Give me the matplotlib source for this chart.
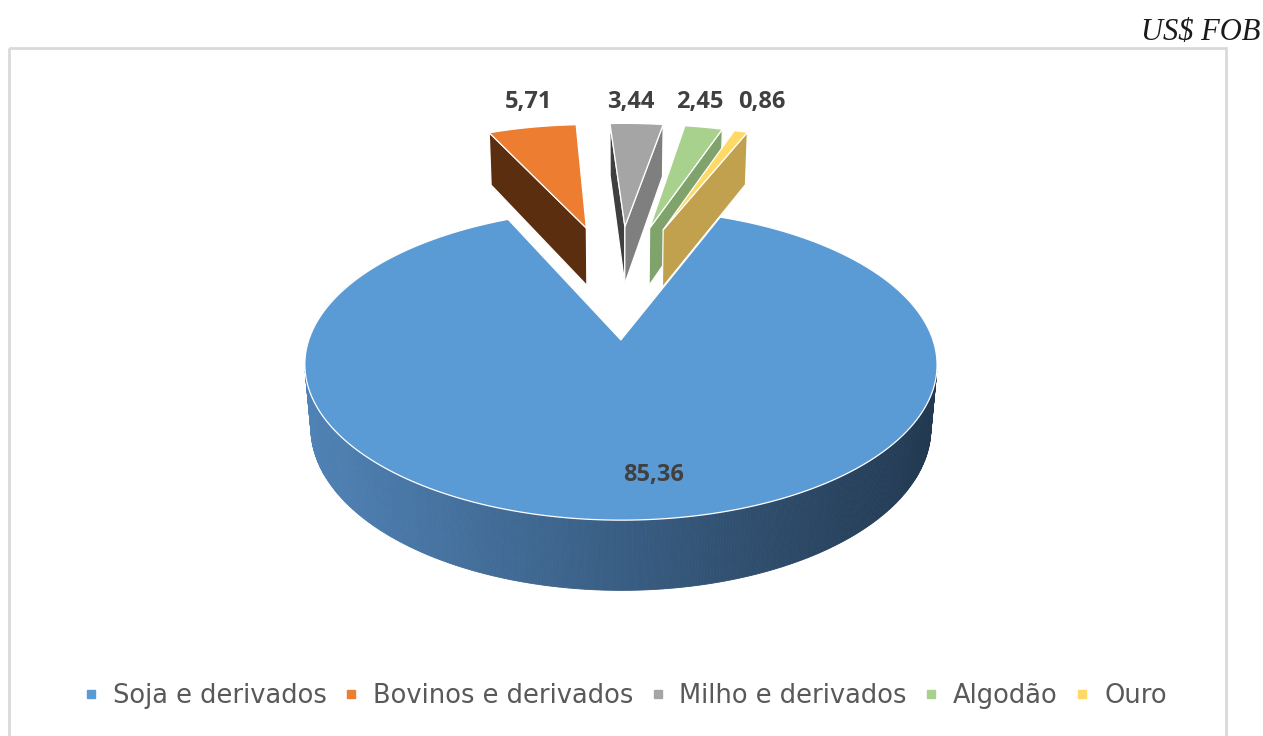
import numpy as np
import matplotlib
matplotlib.use("Agg")
import matplotlib.pyplot as plt
from matplotlib.patches import Polygon, Rectangle
from matplotlib.lines import Line2D
import matplotlib.colors as mcolors

# ---------------- data ----------------
categories = ["Soja e derivados", "Bovinos e derivados", "Milho e derivados", "Algodão", "Ouro"]
values = [85.36, 5.71, 3.44, 2.45, 0.86]
value_labels = ["85,36", "5,71", "3,44", "2,45", "0,86"]
unit_label = "US$ FOB"

# ---------------- style ----------------
top_colors = ["#5B9BD5", "#ED7D31", "#A5A5A5", "#A9D18E", "#FFD966"]
start_side_colors = ["#4A7DAF", "#5C2E10", "#3F3F3F", "#5E7F4E", "#9C7F36"]
end_side_colors = ["#2E4B6B", "#9A5120", "#7F7F7F", "#7FA36A", "#C1A04E"]
wall_light, wall_dark = "#4F82B5", "#223850"
explode = [0.37, 0.48, 0.48, 0.48, 0.48]
start_angle = 21.5  # degrees clockwise from 12 o'clock

# projection parameters (pixel space)
CX, CY = 618.0, 287.0
G = 1963.0
PHI = np.radians(27.3)
A = 6.66
THICK = 0.234
S_, C_, T_ = np.sin(PHI), np.cos(PHI), np.tan(PHI)
CAM = np.array([0.0, -A * C_ * C_, A * C_ * S_])  # camera in world units (u, v, h)


def proj(u, v, h):
    u = np.asarray(u, float); v = np.asarray(v, float); h = np.asarray(h, float)
    den = A + v - h * T_
    X = CX + G * u / den
    Y = CY - G * (v * S_ + h * C_) / den
    return X, Y


def visible(normal, point):
    return np.dot(normal, CAM - point) > 0


W, H = 1263, 736
fig = plt.figure(figsize=(W / 100, H / 100), dpi=100)
ax = fig.add_axes([0, 0, 1, 1])
ax.set_xlim(0, W)
ax.set_ylim(H, 0)
ax.axis("off")

# chart border
ax.add_patch(Rectangle((9, 48), 1217, 700, fill=False, ec="#D9D9D9", lw=2, zorder=0))
ax.text(1260, 32, unit_label, ha="right", va="center", fontsize=22,
        family="Liberation Serif", style="italic", color="#1a1a1a")

total = float(sum(values))
angles = [start_angle]
for val in values:
    angles.append(angles[-1] + val / total * 360.0)

edge_kw = dict(ec="white", lw=0.9, joinstyle="round")


def draw_slice(i, z):
    a0, a1 = np.radians(angles[i]), np.radians(angles[i + 1])
    mid = 0.5 * (a0 + a1)
    ou, ov = explode[i] * np.sin(mid), explode[i] * np.cos(mid)
    arc = np.linspace(a0, a1, max(8, int(np.degrees(a1 - a0) * 2)))
    au, av = ou + np.sin(arc), ov + np.cos(arc)

    n = len(arc)
    for k in range(n - 1):
        am = 0.5 * (arc[k] + arc[k + 1])
        nrm = np.array([np.sin(am), np.cos(am), 0.0])
        pt = np.array([ou + np.sin(am), ov + np.cos(am), -THICK / 2])
        if not visible(nrm, pt):
            continue
        xs, ys = proj([au[k], au[k + 1], au[k + 1], au[k]],
                      [av[k], av[k + 1], av[k + 1], av[k]],
                      [0, 0, -THICK, -THICK])
        if i == 0:
            f = np.clip((xs.mean() - 310) / 630.0, 0, 1)
            c1 = np.array(mcolors.to_rgb(wall_light)); c2 = np.array(mcolors.to_rgb(wall_dark))
            col = c1 * (1 - f) + c2 * f
        else:
            col = end_side_colors[i]
        ax.add_patch(Polygon(np.c_[xs, ys], closed=True, fc=col, ec=col, lw=0.6, zorder=z))
    for edge_ang, sign, col in ((a0, -1, start_side_colors[i]), (a1, 1, end_side_colors[i])):
        na = edge_ang + sign * np.pi / 2
        nrm = np.array([np.sin(na), np.cos(na), 0.0])
        eu, ev = ou + np.sin(edge_ang), ov + np.cos(edge_ang)
        pt = np.array([(ou + eu) / 2, (ov + ev) / 2, -THICK / 2])
        if not visible(nrm, pt):
            continue
        xs, ys = proj([ou, eu, eu, ou], [ov, ev, ev, ov], [0, 0, -THICK, -THICK])
        ax.add_patch(Polygon(np.c_[xs, ys], closed=True, fc=col, zorder=z + 0.1, **edge_kw))
    tu = np.r_[ou, au]
    tv = np.r_[ov, av]
    xs, ys = proj(tu, tv, np.zeros_like(tu))
    ax.add_patch(Polygon(np.c_[xs, ys], closed=True, fc=top_colors[i], zorder=z + 0.2, **edge_kw))
    return ou, ov, mid


for i in range(1, len(values)):
    draw_slice(i, 2 + i)
ou, ov, mid = draw_slice(0, 10)

label_kw = dict(ha="center", va="center", fontsize=17, fontweight="bold",
                color="#404040", family="Open Sans", zorder=20)
# main label on the top face of the big slice
lx, ly = proj(ou + 0.78 * np.sin(mid) + 0.07, ov + 0.78 * np.cos(mid), 0.0)
ax.text(float(lx), float(ly), value_labels[0], **label_kw)

# small-slice labels above their slices, spread so they do not overlap
xs_lab = []
for i in range(1, len(values)):
    a0, a1 = np.radians(angles[i]), np.radians(angles[i + 1])
    m = 0.5 * (a0 + a1)
    r = explode[i] + 1.0
    x, _ = proj(r * np.sin(m), r * np.cos(m), 0.0)
    xs_lab.append(float(x) - 4)
min_gap = 62.0
xs_lab[1] = xs_lab[1] - 2
for k in range(1, len(xs_lab)):
    xs_lab[k] = max(xs_lab[k], xs_lab[k - 1] + min_gap)
for k, x in enumerate(xs_lab):
    ax.text(x, 102, value_labels[k + 1], **label_kw)

handles = [Line2D([], [], ls="none", marker="s", markersize=5.5, mfc=c, mec=c) for c in top_colors]
leg = ax.legend(handles, categories, loc="center", bbox_to_anchor=(625 / W, 1 - 696 / H),
                bbox_transform=fig.transFigure, ncol=5, frameon=False,
                prop=dict(family="DejaVu Sans", size=18.5), labelcolor="#595959",
                handlelength=0.6, handletextpad=0.55, columnspacing=0.65, borderpad=0)

fig.savefig("out.png", dpi=100)
